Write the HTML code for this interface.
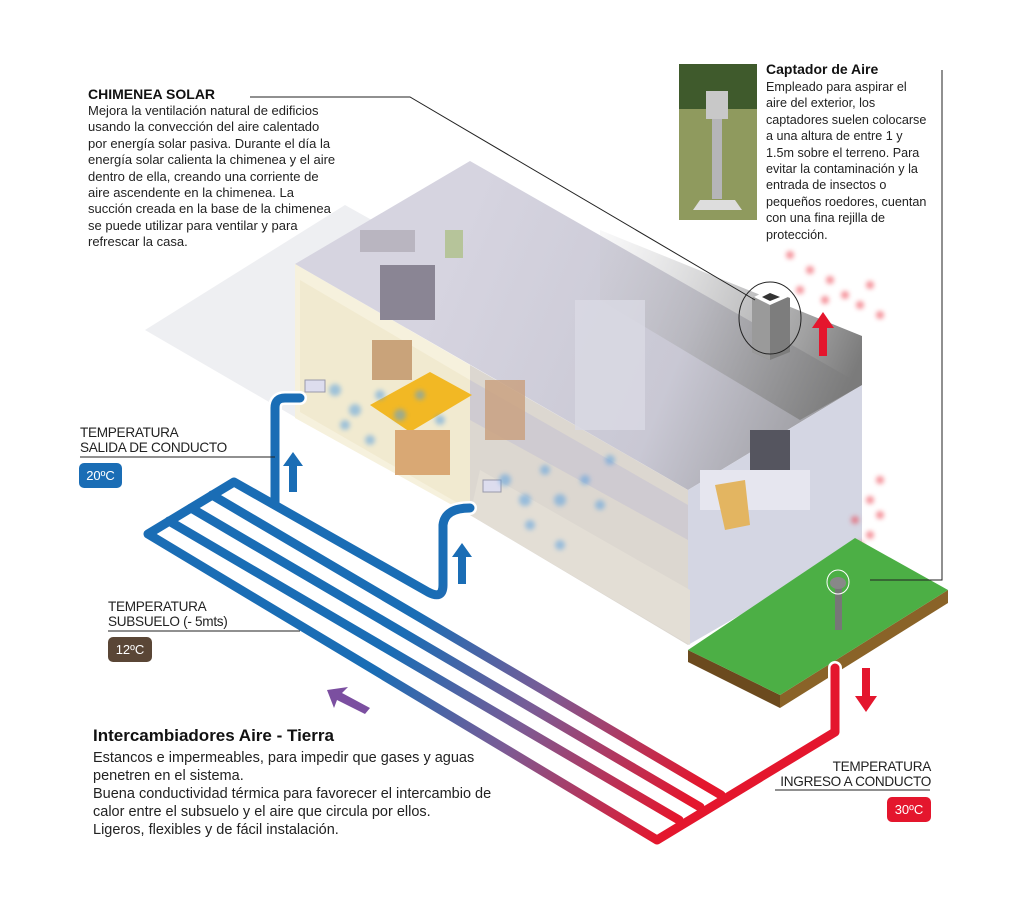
<!DOCTYPE html>
<html><head><meta charset="utf-8">
<style>
html,body{margin:0;padding:0;background:#fff;}
body{width:1024px;height:918px;position:relative;overflow:hidden;font-family:"Liberation Sans",sans-serif;color:#222;}
.t{position:absolute;font-size:13px;line-height:16.4px;white-space:nowrap;}
.h{font-weight:bold;font-size:14px;color:#111;}
.cap{position:absolute;font-size:13.6px;line-height:14.5px;color:#222;letter-spacing:-0.3px;}
.badge{position:absolute;height:25px;border-radius:5px;color:#fff;font-size:13px;line-height:25px;text-align:center;}
</style></head><body>
<svg width="1024" height="918" style="position:absolute;left:0;top:0">
<defs>
<linearGradient id="pg" gradientUnits="userSpaceOnUse" x1="430" y1="600" x2="690" y2="800">
<stop offset="0" stop-color="#1a6db5"/><stop offset="0.45" stop-color="#7a5c96"/><stop offset="1" stop-color="#e4162d"/></linearGradient>
<linearGradient id="roof" gradientUnits="userSpaceOnUse" x1="470" y1="200" x2="860" y2="360">
<stop offset="0" stop-color="#d6d4e0"/><stop offset="0.6" stop-color="#c9c8d4"/><stop offset="1" stop-color="#9a9a9e"/></linearGradient>
<linearGradient id="slab" gradientUnits="userSpaceOnUse" x1="560" y1="230" x2="860" y2="360">
<stop offset="0" stop-color="#d0d0d4" stop-opacity="0"/><stop offset="1" stop-color="#7b7b7b"/></linearGradient>
<filter id="bl"><feGaussianBlur stdDeviation="2.5"/></filter>
</defs>
<polygon points="145,330 345,205 470,275 300,420" fill="#eeeff2"/>
<polygon points="295,264 470,161 862,385 688,490" fill="url(#roof)"/>
<polygon points="295,264 470,365 470,515 295,418" fill="#f6f1dd"/>
<polygon points="300,280 470,380 470,510 300,412" fill="#efe6c8" opacity="0.6"/>
<polygon points="470,365 688,490 688,645 470,515" fill="#dcd7d0"/>
<polygon points="688,490 862,385 862,545 688,645" fill="#d4d6e3"/>
<polygon points="470,380 688,505 688,540 470,420" fill="#c6c3d2" opacity="0.6"/>
<polygon points="480,470 690,590 690,645 470,515" fill="#e3ded5"/>
<polygon points="600,230 862,336 862,385 800,420 600,300" fill="url(#slab)"/>
<rect x="575" y="300" width="70" height="130" fill="#dadae4" opacity="0.8"/>
<rect x="380" y="265" width="55" height="55" fill="#8a8594"/>
<rect x="372" y="340" width="40" height="40" fill="#c9a37a"/>
<polygon points="370,405 430,372 472,395 410,432" fill="#f2b824"/>
<rect x="395" y="430" width="55" height="45" fill="#d9a874"/>
<rect x="485" y="380" width="40" height="60" fill="#c99f7c" opacity="0.8"/>
<rect x="750" y="430" width="40" height="45" fill="#55555f"/>
<rect x="700" y="470" width="110" height="40" fill="#e6e6ef"/>
<polygon points="715,485 745,480 750,525 725,530" fill="#e3b561"/>
<rect x="305" y="380" width="20" height="12" fill="#dde" stroke="#99a"/>
<rect x="483" y="480" width="18" height="12" fill="#dde" stroke="#99a"/>
<rect x="360" y="230" width="55" height="22" fill="#b9b5c0"/>
<rect x="445" y="230" width="18" height="28" fill="#b6c49a"/>
<g fill="#5aa0e0" opacity="0.55" filter="url(#bl)">
<circle cx="335" cy="390" r="6"/><circle cx="355" cy="410" r="6"/><circle cx="380" cy="395" r="5"/><circle cx="345" cy="425" r="5"/><circle cx="400" cy="415" r="6"/><circle cx="370" cy="440" r="5"/><circle cx="420" cy="395" r="5"/><circle cx="440" cy="420" r="5"/>
<circle cx="505" cy="480" r="6"/><circle cx="525" cy="500" r="6"/><circle cx="545" cy="470" r="5"/><circle cx="560" cy="500" r="6"/><circle cx="530" cy="525" r="5"/><circle cx="585" cy="480" r="5"/><circle cx="600" cy="505" r="5"/><circle cx="560" cy="545" r="5"/><circle cx="610" cy="460" r="5"/>
</g>
<g fill="#ec3a4a" opacity="0.55" filter="url(#bl)">
<circle cx="790" cy="255" r="4"/><circle cx="810" cy="270" r="4"/><circle cx="830" cy="280" r="4"/><circle cx="800" cy="290" r="4"/><circle cx="845" cy="295" r="4"/><circle cx="860" cy="305" r="4"/><circle cx="880" cy="315" r="4"/><circle cx="825" cy="300" r="4"/><circle cx="870" cy="285" r="4"/>
<circle cx="880" cy="480" r="4"/><circle cx="870" cy="500" r="4"/><circle cx="855" cy="520" r="4"/><circle cx="880" cy="515" r="4"/><circle cx="860" cy="545" r="4"/><circle cx="845" cy="560" r="4"/><circle cx="870" cy="535" r="4"/>
</g>
<polygon points="752,298 770,290 790,298 790,352 770,360 752,352" fill="#7d7d7d"/>
<polygon points="752,298 770,290 770,360 752,352" fill="#9a9a9a"/>
<polygon points="754,297 770,289 788,297 770,305" fill="#fff"/>
<polygon points="762,297 770,293 780,297 770,301" fill="#333"/>
<ellipse cx="770" cy="318" rx="31" ry="36" fill="none" stroke="#222" stroke-width="1"/>
<polygon points="688,650 780,695 780,708 688,662" fill="#6b4a1e"/>
<polygon points="780,695 948,590 948,603 780,708" fill="#8a6328"/>
<polygon points="688,650 855,538 948,590 780,695" fill="#4caf45"/>
<rect x="835" y="585" width="7" height="45" fill="#777"/>
<ellipse cx="838" cy="583" rx="8" ry="6" fill="#888"/>
<ellipse cx="838" cy="582" rx="11" ry="12" fill="none" stroke="#fff" stroke-width="1"/>
<g fill="none" stroke-linejoin="round" stroke-linecap="round">
<g stroke="#fff" stroke-width="14">
<path d="M300,398 L285,398 Q275,398 275,408 L275,505"/>
<path d="M470,508 Q445,508 443,525 L443,585 Q443,600 428,592 L234,482 L148,534 L657,840 L835,732 L835,668"/>
</g>
<path d="M300,398 L285,398 Q275,398 275,408 L275,505" stroke="#1a6db5" stroke-width="9"/>
<path d="M470,508 Q445,508 443,525 L443,585 Q443,600 428,592 L234,482 L148,534 L657,840 L835,732 L835,668" stroke="url(#pg)" stroke-width="9"/>
<path d="M212,495 L721,795 M191,508 L700,807 M169,521 L679,820" stroke="url(#pg)" stroke-width="9"/>
</g>
<g fill="#1a6db5">
<polygon points="293,452 303,466 297,466 297,492 289,492 289,466 283,466"/>
<polygon points="462,543 472,557 466,557 466,584 458,584 458,557 452,557"/>
</g>
<polygon points="823,312 834,328 827,328 827,356 819,356 819,328 812,328" fill="#e4162d"/>
<polygon points="866,712 855,696 862,696 862,668 870,668 870,696 877,696" fill="#e4162d"/>
<polygon points="327,690 348,687 342,693 370,708 365,714 337,700 334,708" fill="#7b4fa0"/>
<g stroke="#222" stroke-width="1" fill="none">
<polyline points="250,97 410,97 755,300"/>
<polyline points="942,70 942,580 870,580"/>
<line x1="80" y1="457" x2="275" y2="457"/>
<line x1="108" y1="631" x2="300" y2="631"/>
<line x1="775" y1="790" x2="930" y2="790"/>
</g>
<rect x="679" y="64" width="78" height="156" fill="#7f8a52"/>
<rect x="679" y="64" width="78" height="45" fill="#3f5a2c"/>
<rect x="679" y="109" width="78" height="111" fill="#8f9a5e"/>
<rect x="706" y="91" width="22" height="28" fill="#c8c8c8"/>
<rect x="712" y="119" width="10" height="80" fill="#b5b5b8"/>
<polygon points="700,200 735,200 742,210 693,210" fill="#ddd"/>
</svg>

<div class="t h" style="left:88px;top:86px;">CHIMENEA SOLAR</div>
<div class="t" style="left:88px;top:103px;">Mejora la ventilación natural de edificios<br>usando la convección del aire calentado<br>por energía solar pasiva. Durante el día la<br>energía solar calienta la chimenea y el aire<br>dentro de ella, creando una corriente de<br>aire ascendente en la chimenea. La<br>succión creada en la base de la chimenea<br>se puede utilizar para ventilar y para<br>refrescar la casa.</div>

<div class="t h" style="left:766px;top:61px;">Captador de Aire</div>
<div class="t" style="left:766px;top:79px;font-size:12.6px;">Empleado para aspirar el<br>aire del exterior, los<br>captadores suelen colocarse<br>a una altura de entre 1 y<br>1.5m sobre el terreno. Para<br>evitar la contaminación y la<br>entrada de insectos o<br>pequeños roedores, cuentan<br>con una fina rejilla de<br>protección.</div>

<div class="cap" style="left:80px;top:426px;">TEMPERATURA<br>SALIDA DE CONDUCTO</div>
<div class="badge" style="left:79px;top:463px;width:43px;background:#1a6db5;">20ºC</div>
<div class="cap" style="left:108px;top:600px;">TEMPERATURA<br>SUBSUELO (- 5mts)</div>
<div class="badge" style="left:108px;top:637px;width:44px;background:#5a4636;">12ºC</div>
<div class="cap" style="left:755px;top:760px;width:176px;text-align:right;">TEMPERATURA<br>INGRESO A CONDUCTO</div>
<div class="badge" style="left:887px;top:797px;width:44px;background:#e4162d;">30ºC</div>

<div class="t h" style="left:93px;top:728px;font-size:17px;">Intercambiadores Aire - Tierra</div>
<div class="t" style="left:93px;top:749px;font-size:14.5px;line-height:18px;">Estancos e impermeables, para impedir que gases y aguas<br>penetren en el sistema.<br>Buena conductividad térmica para favorecer el intercambio de<br>calor entre el subsuelo y el aire que circula por ellos.<br>Ligeros, flexibles y de fácil instalación.</div>
</body></html>
